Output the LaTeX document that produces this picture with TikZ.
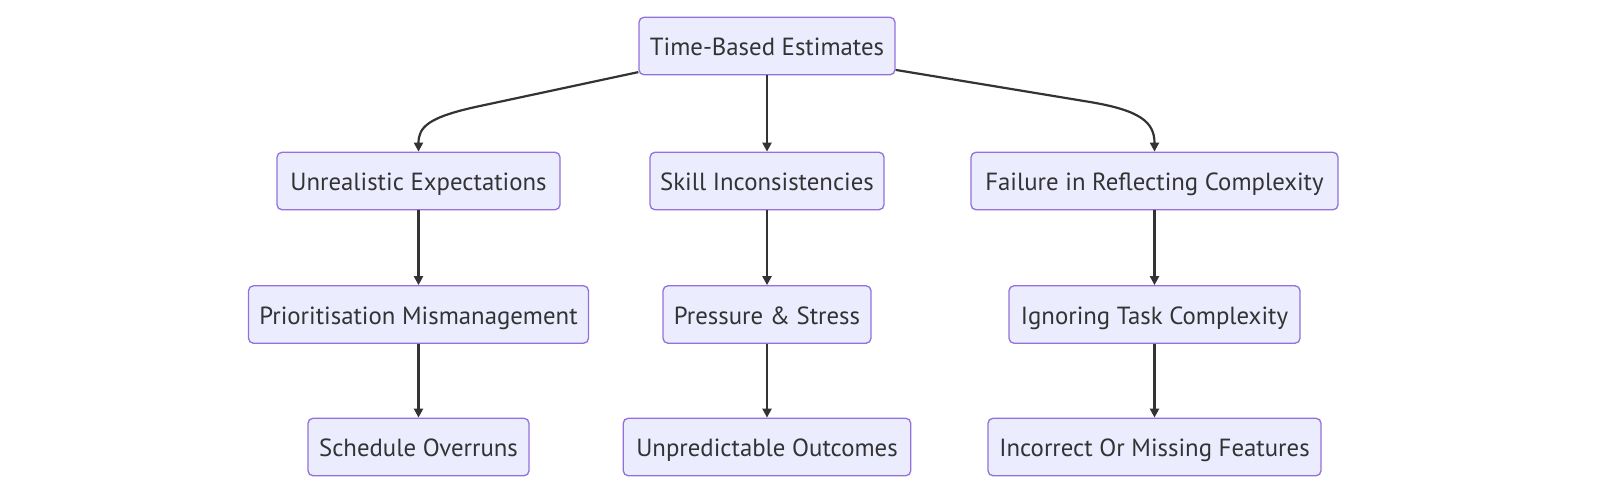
\documentclass[tikz,border=0pt]{standalone}
\usepackage{fontspec}
\setmainfont{PT Sans}
\usetikzlibrary{arrows.meta,calc}
\definecolor{nodefill}{HTML}{ECECFF}
\definecolor{nodeborder}{HTML}{9370DB}
\definecolor{edgecol}{HTML}{333333}
\definecolor{txt}{HTML}{333333}
\tikzset{
  box/.style={draw=nodeborder, fill=nodefill, line width=1.3pt, rounded corners=5pt,
    minimum height=57.5pt, inner sep=0pt, text height=22pt, text depth=3pt, text=txt,
    font=\fontsize{24.8}{28}\selectfont},
  edge/.style={draw=edgecol, line width=2.2pt, -{Triangle[length=9pt,width=9pt]}}
}
\begin{document}
\begin{tikzpicture}[x=1pt,y=-1pt]
\useasboundingbox (0,0) rectangle (1616,499);
\node[box, minimum width=256pt] (T) at (767,46) {Time-Based Estimates};
\node[box, minimum width=283pt] (U) at (418.5,181) {Unrealistic Expectations};
\node[box, minimum width=234pt] (S) at (767,181) {Skill Inconsistencies};
\node[box, minimum width=367pt] (F) at (1154.5,181) {Failure in Reflecting Complexity};
\node[box, minimum width=340pt] (P) at (418.5,314.5) {Prioritisation Mismanagement};
\node[box, minimum width=208pt] (Pr) at (767,314.5) {Pressure \& Stress};
\node[box, minimum width=291pt] (I) at (1154.5,314.5) {Ignoring Task Complexity};
\node[box, minimum width=221pt] (Sc) at (418.5,447) {Schedule Overruns};
\node[box, minimum width=287.5pt] (Un) at (767,447) {Unpredictable Outcomes};
\node[box, minimum width=333pt] (In) at (1154.5,447) {Incorrect Or Missing Features};

\draw[edge] ($(T.south west)+(0,-3.3)$) -- (480,106) .. controls (428,117) and (418.5,127) .. (U.north);
\draw[edge] (T.south) -- (S.north);
\draw[edge] ($(T.south east)+(0,-5.5)$) -- (1090,102) .. controls (1140,110.4) and (1154.5,122) .. (F.north);
\draw[edge] (U.south) -- (P.north);
\draw[edge] (S.south) -- (Pr.north);
\draw[edge] (F.south) -- (I.north);
\draw[edge] (P.south) -- (Sc.north);
\draw[edge] (Pr.south) -- (Un.north);
\draw[edge] (I.south) -- (In.north);
\end{tikzpicture}
\end{document}
